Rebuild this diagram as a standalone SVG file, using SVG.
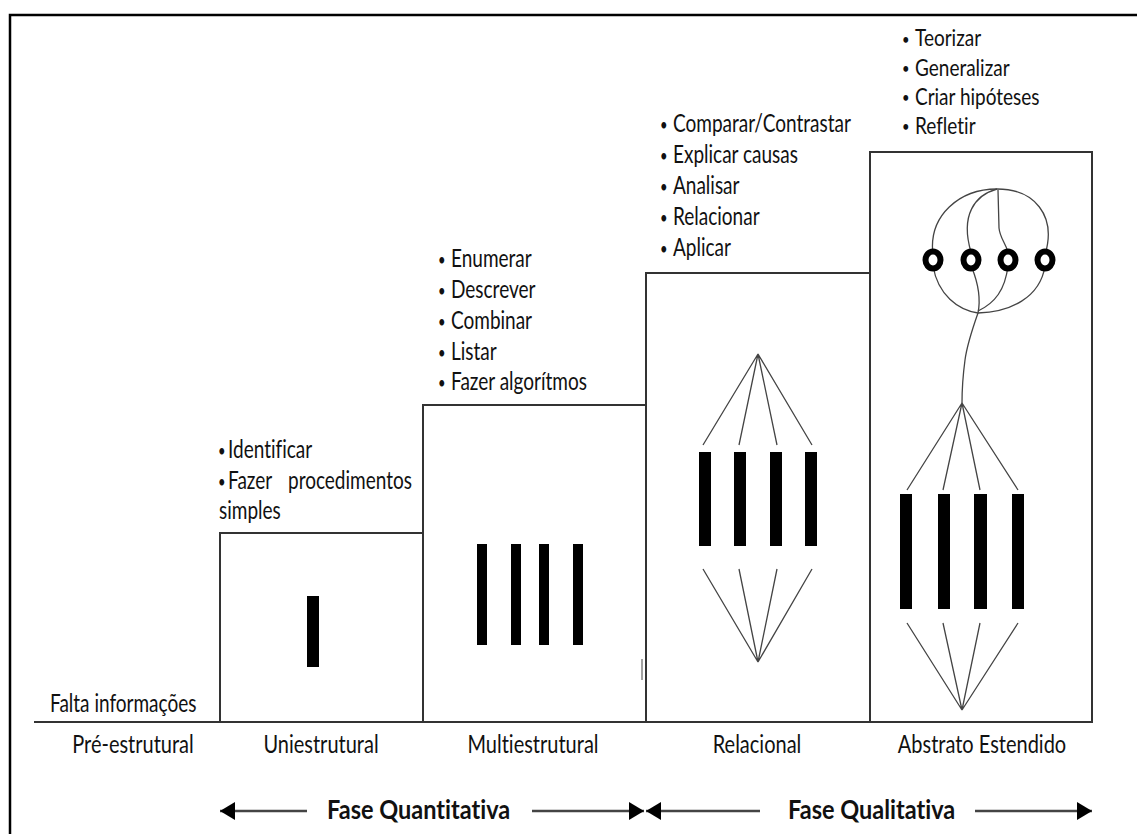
<svg xmlns="http://www.w3.org/2000/svg" width="1137" height="834" viewBox="0 0 1137 834">
<style>
.t{font-family:Lato,"Liberation Sans",sans-serif;font-size:19px;fill:#111;font-variant-ligatures:none;font-feature-settings:"liga" 0,"clig" 0}
.lb{font-size:20px}
.b{font-weight:bold;font-size:23.5px}
.bu{font-size:13px}
.ln{stroke:#333;stroke-width:2;fill:none}
.fan{stroke:#444;stroke-width:1.3;fill:none}
.bar{fill:#000}
.ring{fill:#fff;stroke:#000;stroke-width:6}
.arr{stroke:#444;stroke-width:2.5;fill:none}
</style>
<defs>
<marker id="ah" markerUnits="userSpaceOnUse" markerWidth="16" markerHeight="19" refX="15" refY="9" orient="auto"><path d="M0,0 L15,9 L0,18 z" fill="#000"/></marker>
</defs>
<rect width="1137" height="834" fill="#fff"/>
<path d="M10,834 V15 H1137" stroke="#000" stroke-width="2.5" fill="none"/>
<line x1="34" y1="722" x2="1092" y2="722" class="ln"/>

<g id="pre-estrutural">
<text class="t" transform="matrix(1,0,0,1.28,50,712)">Falta informações</text>
<text class="t lb" text-anchor="middle" transform="matrix(1,0,0,1.26,133,753)">Pré-estrutural</text>
</g>

<g id="uniestrutural">
<rect x="220" y="533" width="203" height="189" class="ln"/>
<rect x="307" y="596" width="12" height="71" class="bar"/>
<text class="t" transform="matrix(1,0,0,1.28,218,458)"><tspan class="bu" x="0" dy="-1">•</tspan><tspan x="10" dy="1">Identificar</tspan></text>
<text class="t" transform="matrix(1,0,0,1.28,218,489)"><tspan class="bu" x="0" dy="-1">•</tspan><tspan x="10" dy="1">Fazer</tspan><tspan x="70">procedimentos</tspan></text>
<text class="t" transform="matrix(1,0,0,1.28,219,519)">simples</text>
<text class="t lb" text-anchor="middle" transform="matrix(1,0,0,1.26,321,753)">Uniestrutural</text>
</g>

<g id="multiestrutural">
<rect x="423" y="405" width="223" height="317" class="ln"/>
<rect x="477" y="544" width="10" height="101" class="bar"/>
<rect x="511" y="544" width="10" height="101" class="bar"/>
<rect x="539" y="544" width="10" height="101" class="bar"/>
<rect x="573" y="544" width="10" height="101" class="bar"/>
<text class="t" transform="matrix(1,0,0,1.28,438,267)"><tspan class="bu" x="0" dy="-1">•</tspan><tspan x="13" dy="1">Enumerar</tspan></text>
<text class="t" transform="matrix(1,0,0,1.28,438,298)"><tspan class="bu" x="0" dy="-1">•</tspan><tspan x="13" dy="1">Descrever</tspan></text>
<text class="t" transform="matrix(1,0,0,1.28,438,329)"><tspan class="bu" x="0" dy="-1">•</tspan><tspan x="13" dy="1">Combinar</tspan></text>
<text class="t" transform="matrix(1,0,0,1.28,438,360)"><tspan class="bu" x="0" dy="-1">•</tspan><tspan x="13" dy="1">Listar</tspan></text>
<text class="t" transform="matrix(1,0,0,1.28,438,390)"><tspan class="bu" x="0" dy="-1">•</tspan><tspan x="13" dy="1">Fazer algorítmos</tspan></text>
<text class="t lb" text-anchor="middle" transform="matrix(1,0,0,1.26,533,753)">Multiestrutural</text>
<line x1="642" y1="659" x2="642" y2="680" stroke="#444" stroke-width="1"/>
</g>

<g id="relacional">
<rect x="646" y="273" width="224" height="449" class="ln"/>
<path class="fan" d="M758,354 L703,445 M758,354 L739,445 M758,354 L777,445 M758,354 L812,445"/>
<rect x="699" y="452" width="12" height="94" class="bar"/>
<rect x="734" y="452" width="12" height="94" class="bar"/>
<rect x="770" y="452" width="12" height="94" class="bar"/>
<rect x="805" y="452" width="12" height="94" class="bar"/>
<path class="fan" d="M703,569 L758,662 M739,569 L758,662 M777,569 L758,662 M812,569 L758,662"/>
<text class="t" transform="matrix(1,0,0,1.28,660,132)"><tspan class="bu" x="0" dy="-1">•</tspan><tspan x="13" dy="1">Comparar/Contrastar</tspan></text>
<text class="t" transform="matrix(1,0,0,1.28,660,163)"><tspan class="bu" x="0" dy="-1">•</tspan><tspan x="13" dy="1">Explicar causas</tspan></text>
<text class="t" transform="matrix(1,0,0,1.28,660,194)"><tspan class="bu" x="0" dy="-1">•</tspan><tspan x="13" dy="1">Analisar</tspan></text>
<text class="t" transform="matrix(1,0,0,1.28,660,225)"><tspan class="bu" x="0" dy="-1">•</tspan><tspan x="13" dy="1">Relacionar</tspan></text>
<text class="t" transform="matrix(1,0,0,1.28,660,256)"><tspan class="bu" x="0" dy="-1">•</tspan><tspan x="13" dy="1">Aplicar</tspan></text>
<text class="t lb" text-anchor="middle" transform="matrix(1,0,0,1.26,757,753)">Relacional</text>
</g>

<g id="abstrato-estendido">
<rect x="870" y="152" width="222" height="570" class="ln"/>
<path class="fan" d="M997,189 C960,189 928,215 933,255 M997,189 C1034,189 1057,215 1045,255"/>
<path class="fan" d="M933,266 C938,295 958,310 978,313 M1045,266 C1040,298 1010,312 978,313"/>
<path class="fan" d="M997,189 C975,195 960,215 971,252 M998,190 L999,228 C1000,238 1005,242 1008,252"/>
<path class="fan" d="M1008,266 C1005,290 995,303 978,311"/>
<path class="fan" d="M972,268 C980,288 980,303 978,313 C972,330 967,345 965,360 C963,375 962,388 962,403"/>
<ellipse cx="933" cy="260" rx="7.5" ry="8.5" class="ring"/>
<ellipse cx="971" cy="260" rx="7.5" ry="8.5" class="ring"/>
<ellipse cx="1008" cy="260" rx="7.5" ry="8.5" class="ring"/>
<ellipse cx="1045" cy="260" rx="7.5" ry="8.5" class="ring"/>
<path class="fan" d="M962,403 L907,490 M962,403 L943,490 M962,403 L980,490 M962,403 L1018,490"/>
<rect x="900" y="494" width="12" height="115" class="bar"/>
<rect x="938" y="494" width="12" height="115" class="bar"/>
<rect x="974" y="494" width="13" height="115" class="bar"/>
<rect x="1012" y="494" width="12" height="115" class="bar"/>
<path class="fan" d="M907,623 L962,710 M943,623 L962,710 M980,623 L962,710 M1018,623 L962,710"/>
<text class="t" transform="matrix(1,0,0,1.24,902,46)"><tspan class="bu" x="0" dy="-1">•</tspan><tspan x="13" dy="1">Teorizar</tspan></text>
<text class="t" transform="matrix(1,0,0,1.24,902,75.5)"><tspan class="bu" x="0" dy="-1">•</tspan><tspan x="13" dy="1">Generalizar</tspan></text>
<text class="t" transform="matrix(1,0,0,1.24,902,104.5)"><tspan class="bu" x="0" dy="-1">•</tspan><tspan x="13" dy="1">Criar hipóteses</tspan></text>
<text class="t" transform="matrix(1,0,0,1.24,902,133.5)"><tspan class="bu" x="0" dy="-1">•</tspan><tspan x="13" dy="1">Refletir</tspan></text>
<text class="t lb" text-anchor="middle" transform="matrix(1,0,0,1.26,982,753)">Abstrato Estendido</text>
</g>

<g id="connectors">
<line x1="307" y1="811" x2="220" y2="811" class="arr" marker-end="url(#ah)"/>
<line x1="532" y1="811" x2="644" y2="811" class="arr" marker-end="url(#ah)"/>
<line x1="760" y1="811" x2="646" y2="811" class="arr" marker-end="url(#ah)"/>
<line x1="975" y1="811" x2="1092" y2="811" class="arr" marker-end="url(#ah)"/>
</g>
<g id="fases">
<text class="t b" transform="matrix(1,0,0,1.17,327,819)">Fase Quantitativa</text>
<text class="t b" transform="matrix(1,0,0,1.17,788,819)">Fase Qualitativa</text>
</g>
</svg>
